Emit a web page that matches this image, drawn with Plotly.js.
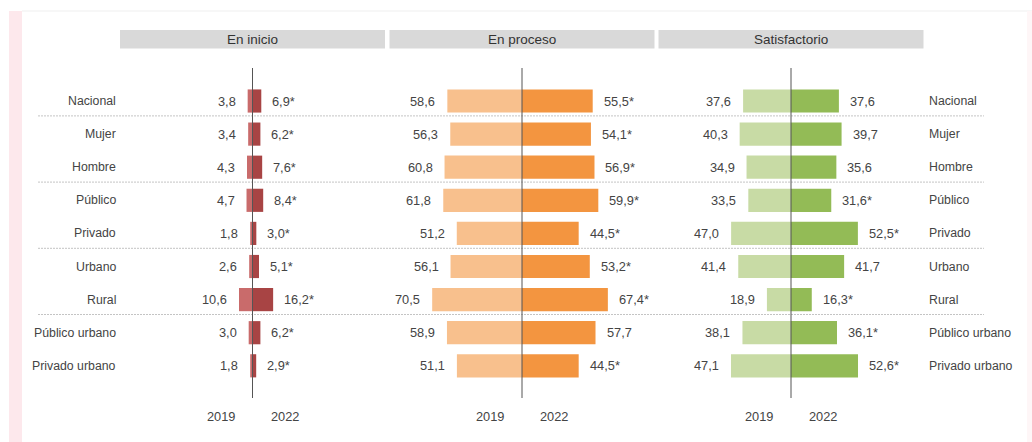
<!DOCTYPE html>
<html>
<head>
<meta charset="utf-8">
<script src="https://cdn.plot.ly/plotly-3.0.1.min.js"></script>
<style>
html,body{margin:0;padding:0;background:#fff;}
#chart{width:1032px;height:442px;}
</style>
</head>
<body>
<div id="chart"></div>
<script>
// ---- Data ----
var categories = ["Nacional","Mujer","Hombre","Público","Privado","Urbano","Rural","Público urbano","Privado urbano"];
var panelTitles = ["En inicio","En proceso","Satisfactorio"];
var yearLabels = ["2019","2022"];

var inicio2019 = [3.8,3.4,4.3,4.7,1.8,2.6,10.6,3.0,1.8];
var inicio2022 = [6.9,6.2,7.6,8.4,3.0,5.1,16.2,6.2,2.9];
var inicioSig  = [1,1,1,1,1,1,1,1,1];

var proceso2019 = [58.6,56.3,60.8,61.8,51.2,56.1,70.5,58.9,51.1];
var proceso2022 = [55.5,54.1,56.9,59.9,44.5,53.2,67.4,57.7,44.5];
var procesoSig  = [1,1,1,1,1,1,1,0,1];

var satis2019 = [37.6,40.3,34.9,33.5,47.0,41.4,18.9,38.1,47.1];
var satis2022 = [37.6,39.7,35.6,31.6,52.5,41.7,16.3,36.1,52.6];
var satisSig  = [0,0,0,1,1,0,1,1,1];

var separatorsAfter = [0,2,4,6];

// ---- Styling ----
var W = 1032, H = 442;
var FONT = "Liberation Sans, Arial, sans-serif";
var TXT = "#444444";
var rowTop = 101, rowStep = 33.1;
function py(px){ return (px - rowTop) / rowStep; }   // pixel -> y data
var centers = [252.5, 522, 791];
var halfW = 132.5;
var xHalf = 104;

var panels = [
  {a: inicio2019, b: inicio2022, sig: inicioSig, c1: "#c96b6b", c2: "#a84444"},
  {a: proceso2019, b: proceso2022, sig: procesoSig, c1: "#f8c08d", c2: "#f39540"},
  {a: satis2019, b: satis2022, sig: satisSig, c1: "#c8dba5", c2: "#93bb56"}
];

function fmt(v, s){ return v.toFixed(1).replace('.', ',') + (s ? '*' : ''); }

var yIdx = categories.map(function(_, i){ return i; });
var data = [], annotations = [], shapes = [];
var layout = {
  width: W, height: H,
  margin: {l:0, r:0, t:0, b:0, pad:0},
  paper_bgcolor: "#ffffff", plot_bgcolor: "rgba(0,0,0,0)",
  showlegend: false, barmode: "overlay", hovermode: false,
  font: {family: FONT, size: 12, color: TXT},
  yaxis: {range: [py(H), py(0)], visible: false, showgrid: false, zeroline: false, fixedrange: true}
};

// background decorations
shapes.push({type:"rect", xref:"paper", yref:"paper", x0:9/W, x1:22/W, y0:0, y1:1-11/H, fillcolor:"#fde8ec", line:{width:0}, layer:"below"});
shapes.push({type:"line", xref:"paper", yref:"paper", x0:22/W, x1:1, y0:1-11/H, y1:1-11/H, line:{color:"#efefef", width:1}, layer:"below"});
shapes.push({type:"rect", xref:"paper", yref:"paper", x0:1027/W, x1:1, y0:0, y1:1-11/H, fillcolor:"#fef6f7", line:{width:0}, layer:"below"});

// separators
separatorsAfter.forEach(function(i){
  shapes.push({type:"line", xref:"paper", yref:"y", x0:38/W, x1:984/W, y0:i+0.45, y1:i+0.45,
    line:{color:"#c4c4c4", width:1, dash:"2px,1px"}, layer:"below"});
});

panels.forEach(function(p, k){
  var ax = k === 0 ? "x" : "x" + (k+1);
  var axKey = k === 0 ? "xaxis" : "xaxis" + (k+1);
  layout[axKey] = {
    domain: [(centers[k]-halfW)/W, (centers[k]+halfW)/W],
    range: [-xHalf, xHalf], visible: false, showgrid: false, zeroline: false, fixedrange: true,
    anchor: "y"
  };
  data.push({type:"bar", orientation:"h", x: p.a.map(function(v){return -v;}), y: yIdx,
    xaxis: ax, yaxis: "y", width: 0.7, marker:{color:p.c1, line:{width:0}}, hoverinfo:"skip"});
  data.push({type:"bar", orientation:"h", x: p.b, y: yIdx,
    xaxis: ax, yaxis: "y", width: 0.7, marker:{color:p.c2, line:{width:0}}, hoverinfo:"skip"});

  // header box + title
  shapes.push({type:"rect", xref:"paper", yref:"paper",
    x0:(centers[k]-halfW)/W, x1:(centers[k]+halfW)/W, y0:1-48.5/H, y1:1-30/H,
    fillcolor:"#d9d9d9", line:{width:0}, layer:"below"});
  annotations.push({xref:"paper", yref:"paper", x:centers[k]/W, y:1-39.5/H, text:panelTitles[k],
    showarrow:false, xanchor:"center", yanchor:"middle", font:{size:13.5, color:"#333"}});

  // center line
  shapes.push({type:"line", xref:ax, yref:"y", x0:0, x1:0, y0:py(68), y1:py(398),
    line:{color:"#555", width:1}, layer:"above"});

  // value labels
  categories.forEach(function(c, i){
    annotations.push({xref:ax, yref:"y", x:-p.a[i], y:i, text:fmt(p.a[i], false), showarrow:false,
      xanchor:"right", yanchor:"middle", xshift:-10, font:{size:12.8, color:TXT}});
    annotations.push({xref:ax, yref:"y", x:p.b[i], y:i, text:fmt(p.b[i], p.sig[i]), showarrow:false,
      xanchor:"left", yanchor:"middle", xshift:9, font:{size:12.8, color:TXT}});
  });

  // year labels
  annotations.push({xref:ax, yref:"y", x:0, y:py(416), text:yearLabels[0], showarrow:false,
    xanchor:"center", yanchor:"middle", xshift:-32, font:{size:12.8, color:TXT}});
  annotations.push({xref:ax, yref:"y", x:0, y:py(416), text:yearLabels[1], showarrow:false,
    xanchor:"center", yanchor:"middle", xshift:32, font:{size:12.8, color:TXT}});
});

// row labels
categories.forEach(function(c, i){
  annotations.push({xref:"paper", yref:"y", x:118/W, y:i, text:c, showarrow:false,
    xanchor:"right", yanchor:"middle", font:{size:12.3, color:TXT}});
  annotations.push({xref:"paper", yref:"y", x:927/W, y:i, text:c, showarrow:false,
    xanchor:"left", yanchor:"middle", font:{size:12.3, color:TXT}});
});

layout.shapes = shapes;
layout.annotations = annotations;

Plotly.newPlot("chart", data, layout, {displayModeBar:false, staticPlot:true});
</script>
</body>
</html>
